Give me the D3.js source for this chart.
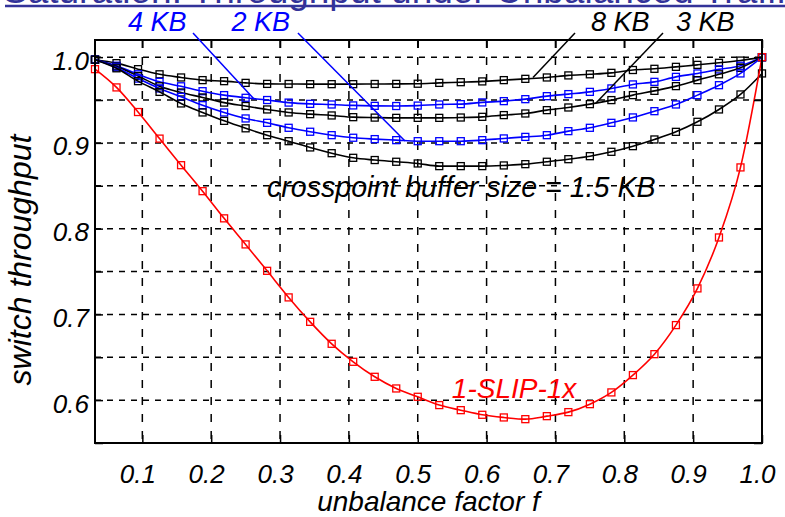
<!DOCTYPE html>
<html>
<head>
<meta charset="utf-8">
<script src="https://cdn.jsdelivr.net/npm/d3@7"></script>
<style>
  body { margin: 0; background: #fff; overflow: hidden; }
  svg { display: block; }
  text { font-family: "Liberation Sans", Arial, sans-serif; }
</style>
</head>
<body>
<div id="chart"></div>
<script>
// unbalance factor f (x values of every point)
const fValues = [0.03125, 0.0625, 0.09375, 0.125, 0.15625, 0.1875, 0.21875, 0.25,
                 0.28125, 0.3125, 0.34375, 0.375, 0.40625, 0.4375, 0.46875, 0.5,
                 0.53125, 0.5625, 0.59375, 0.625, 0.65625, 0.6875, 0.71875, 0.75,
                 0.78125, 0.8125, 0.84375, 0.875, 0.90625, 0.9375, 0.96875, 1.0];

// switch throughput per crosspoint buffer size
const buf8KB = [0.997, 0.993, 0.986, 0.980, 0.9763, 0.9732, 0.972, 0.970, 0.9688, 0.9687, 0.9685, 0.9685,
                0.9685, 0.9687, 0.9688, 0.969, 0.970, 0.9708, 0.9717, 0.9732, 0.9747, 0.9763, 0.9787, 0.980,
                0.9817, 0.985, 0.9864, 0.9887, 0.991, 0.9934, 0.996, 1.0];
const buf4KB = [0.997, 0.990, 0.980, 0.9712, 0.966, 0.9603, 0.9557, 0.9526, 0.950, 0.947, 0.9455, 0.9448,
                0.9437, 0.9432, 0.943, 0.9435, 0.9448, 0.9452, 0.9472, 0.9487, 0.951, 0.9545, 0.9569, 0.9595,
                0.9635, 0.9682, 0.9712, 0.977, 0.981, 0.9857, 0.990, 1.0];
const buf3KB = [0.997, 0.989, 0.978, 0.966, 0.9588, 0.953, 0.947, 0.943, 0.939, 0.9355, 0.9335, 0.932,
                0.930, 0.9295, 0.9292, 0.9292, 0.9292, 0.9296, 0.9304, 0.9324, 0.9343, 0.9382, 0.9413, 0.9452,
                0.9499, 0.9557, 0.9607, 0.9662, 0.9732, 0.980, 0.9875, 1.0];
const buf2KB = [0.997, 0.988, 0.975, 0.9635, 0.9537, 0.944, 0.9355, 0.9285, 0.9234, 0.9176, 0.913, 0.909,
                0.906, 0.9044, 0.9032, 0.902, 0.902, 0.902, 0.9032, 0.9052, 0.907, 0.909, 0.9137, 0.9176,
                0.9234, 0.9297, 0.937, 0.9448, 0.9557, 0.9673, 0.981, 1.0];
const buf15KB = [0.997, 0.987, 0.972, 0.9595, 0.946, 0.9355, 0.9257, 0.917, 0.909, 0.902, 0.8947, 0.888,
                 0.8826, 0.880, 0.878, 0.876, 0.8729, 0.8729, 0.8729, 0.8737, 0.8752, 0.878, 0.881, 0.8845,
                 0.8896, 0.8962, 0.904, 0.9129, 0.9246, 0.939, 0.9565, 0.981];
const slip1x = [0.986, 0.9647, 0.936, 0.905, 0.874, 0.8437, 0.812, 0.7816, 0.7508, 0.7198, 0.6913, 0.6657,
                0.6447, 0.6272, 0.6136, 0.6039, 0.5942, 0.5883, 0.5829, 0.5798, 0.5778, 0.5813, 0.586, 0.5953,
                0.609, 0.6292, 0.6536, 0.6875, 0.7303, 0.7897, 0.8714, 1.0];

const xTicks = [0.1, 0.2, 0.3, 0.4, 0.5, 0.6, 0.7, 0.8, 0.9, 1.0];
const yTicks = [0.55, 0.6, 0.65, 0.7, 0.75, 0.8, 0.85, 0.9, 0.95, 1.0];
const yLabeled = [0.6, 0.7, 0.8, 0.9, 1.0];

const series = [
  { name: "8 KB", values: buf8KB, color: "#000000" },
  { name: "4 KB", values: buf4KB, color: "#0000ff" },
  { name: "3 KB", values: buf3KB, color: "#000000" },
  { name: "2 KB", values: buf2KB, color: "#0000ff" },
  { name: "1.5 KB", values: buf15KB, color: "#000000" },
  { name: "1-SLIP-1x", values: slip1x, color: "#ff0000" }
];

// leader labels: text anchor point and line (from, to) in data units
const callouts = [
  { text: "4 KB", color: "#0000ff", tx: 0.079, ty: 1.0305, from: [0.1736, 1.0282], to: [0.2622, 0.9512] },
  { text: "2 KB", color: "#0000ff", tx: 0.2295, ty: 1.0305, from: [0.326, 1.0282], to: [0.4815, 0.9022] },
  { text: "8 KB", color: "#000000", tx: 0.7516, ty: 1.0305, from: [0.7284, 1.0282], to: [0.6674, 0.9763] },
  { text: "3 KB", color: "#000000", tx: 0.875, ty: 1.0305, from: [0.8562, 1.0282], to: [0.7589, 0.9465] }
];

const width = 785, height = 517;
const mLeft = 95, mRight = 762, mTop = 40, mBottom = 443;

const svg = d3.select("#chart").append("svg")
  .attr("width", width)
  .attr("height", height);

const x = d3.scaleLinear().domain([0.03125, 1]).range([mLeft, mRight]);
const y = d3.scaleLinear().domain([0.55, 1.02]).range([mBottom, mTop]);

// title (cut off at the top of the page) and its rule
svg.append("text")
  .attr("x", 3).attr("y", 3)
  .attr("font-size", 37)
  .attr("fill", "#333399")
  .text("Saturation: Throughput under Unbalanced Traffic");
svg.append("line")
  .attr("x1", 5).attr("x2", width)
  .attr("y1", 6).attr("y2", 6)
  .attr("stroke", "#333399").attr("stroke-width", 2.5);

// dashed grid
svg.append("g").selectAll("line")
  .data(yTicks.filter(v => v > 0.55))
  .enter().append("line")
  .attr("x1", mLeft).attr("x2", mRight)
  .attr("y1", d => y(d)).attr("y2", d => y(d))
  .attr("stroke", "#000").attr("stroke-width", 1.5)
  .attr("stroke-dasharray", "6,6");
svg.append("g").selectAll("line")
  .data(xTicks.filter(v => v < 1))
  .enter().append("line")
  .attr("x1", d => x(d)).attr("x2", d => x(d))
  .attr("y1", mTop).attr("y2", mBottom)
  .attr("stroke", "#000").attr("stroke-width", 1.5)
  .attr("stroke-dasharray", "8,9");

// curves
const line = d3.line()
  .x((d, i) => x(fValues[i]))
  .y(d => y(d))
  .curve(d3.curveMonotoneX);

series.forEach(s => {
  const g = svg.append("g");
  g.append("path")
    .datum(s.values)
    .attr("d", line)
    .attr("fill", "none")
    .attr("stroke", s.color)
    .attr("stroke-width", 1.6);
  g.selectAll("rect")
    .data(s.values)
    .enter().append("rect")
    .attr("x", (d, i) => x(fValues[i]) - 3.5)
    .attr("y", d => y(d) - 3.5)
    .attr("width", 7).attr("height", 7)
    .attr("fill", "none")
    .attr("stroke", s.color)
    .attr("stroke-width", 1.3);
});

// axes with inward ticks
const fmt = d3.format(".1f");
const xAxis = svg.append("g")
  .attr("transform", `translate(0,${mBottom})`)
  .call(d3.axisBottom(x).tickValues(xTicks).tickSizeInner(-8).tickSizeOuter(0)
    .tickPadding(22).tickFormat(fmt));
svg.append("g")
  .attr("transform", `translate(0,${mTop})`)
  .call(d3.axisTop(x).tickValues(xTicks).tickSizeInner(-8).tickSizeOuter(0).tickFormat(""));
const yAxis = svg.append("g")
  .attr("transform", `translate(${mLeft},0)`)
  .call(d3.axisLeft(y).tickValues(yTicks).tickSizeInner(-8).tickSizeOuter(0)
    .tickPadding(6).tickFormat(d => yLabeled.some(v => Math.abs(v - d) < 1e-9) ? fmt(d) : ""));
svg.append("g")
  .attr("transform", `translate(${mRight},0)`)
  .call(d3.axisRight(y).tickValues(yTicks).tickSizeInner(-8).tickSizeOuter(0).tickFormat(""));

svg.selectAll(".domain").remove();
svg.selectAll(".tick line").attr("stroke", "#000").attr("stroke-width", 1.5);
xAxis.selectAll(".tick text")
  .attr("font-size", 26).attr("font-style", "italic")
  .attr("font-family", "Liberation Sans, Arial, sans-serif")
  .attr("fill", "#000").attr("dx", -5);
yAxis.selectAll(".tick text")
  .attr("font-size", 26).attr("font-style", "italic")
  .attr("font-family", "Liberation Sans, Arial, sans-serif")
  .attr("fill", "#000").attr("dy", "0.46em");

// frame
svg.append("rect")
  .attr("x", mLeft).attr("y", mTop)
  .attr("width", mRight - mLeft).attr("height", mBottom - mTop)
  .attr("fill", "none").attr("stroke", "#000").attr("stroke-width", 2);

// axis titles
svg.append("text")
  .attr("x", (mLeft + mRight) / 2).attr("y", 511)
  .attr("text-anchor", "middle")
  .attr("font-size", 28).attr("font-style", "italic")
  .text("unbalance factor f");
svg.append("text")
  .attr("transform", "translate(31,260) rotate(-90)")
  .attr("text-anchor", "middle")
  .attr("font-size", 32).attr("font-style", "italic")
  .text("switch throughput");

// in-plot labels
svg.append("text")
  .attr("x", x(0.281)).attr("y", y(0.8369))
  .attr("font-size", 28.6).attr("font-style", "italic")
  .attr("fill", "#000")
  .text("crosspoint buffer size = 1.5 KB");
svg.append("text")
  .attr("x", x(0.5495)).attr("y", y(0.6025))
  .attr("font-size", 28).attr("font-style", "italic")
  .attr("fill", "#ff0000")
  .text("1-SLIP-1x");

callouts.forEach(c => {
  svg.append("line")
    .attr("x1", x(c.from[0])).attr("y1", y(c.from[1]))
    .attr("x2", x(c.to[0])).attr("y2", y(c.to[1]))
    .attr("stroke", c.color).attr("stroke-width", 1.5);
  svg.append("text")
    .attr("x", x(c.tx)).attr("y", y(c.ty))
    .attr("font-size", 27).attr("font-style", "italic")
    .attr("fill", c.color)
    .text(c.text);
});
</script>
</body>
</html>
